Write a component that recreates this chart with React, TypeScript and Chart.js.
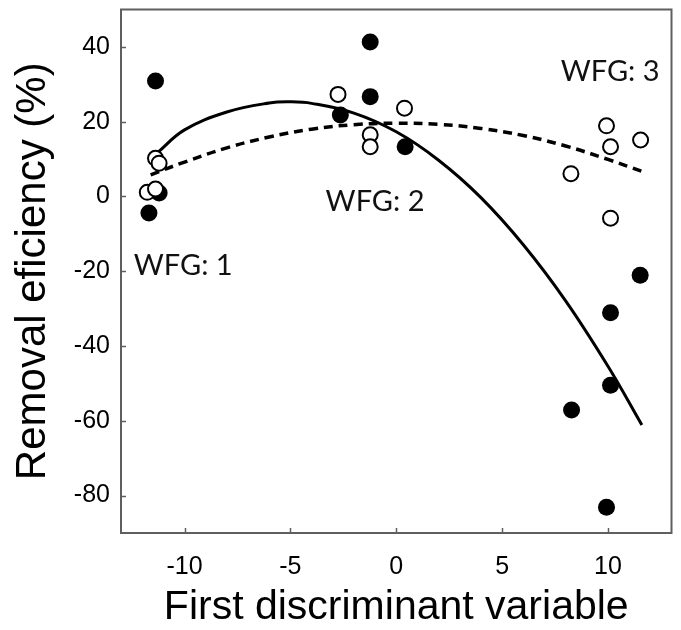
import React, { useEffect, useRef } from "react";
import { Chart, registerables } from "chart.js";

Chart.register(...registerables);

// Filled circles (group A)
const filledX = [-11.37, -11.68, -11.2, -1.23, -1.23, -2.64, 0.42, 11.52, 10.12, 10.12, 8.28, 9.93];
const filledY = [30.9, -4.4, 0.9, 41.3, 26.7, 21.8, 13.3, -21.1, -31.1, -50.5, -57.1, -83.1];

// Open circles (group B)
const openX = [-11.37, -11.2, -11.76, -11.37, -2.75, -1.23, -1.23, 0.39, 9.93, 10.12, 11.54, 8.25, 10.12];
const openY = [10.2, 8.9, 1.1, 2.0, 27.3, 16.5, 13.3, 23.6, 18.9, 13.3, 15.1, 6.1, -5.8];

// Solid fitted curve
const solidX = [-11.3, -10, -8, -6, -5, -4, -2, 0, 2, 4, 6, 8, 10, 11.6];
const solidY = [11.6, 17.8, 22.6, 25.0, 25.3, 24.9, 22.3, 17.3, 9.7, -0.3, -12.9, -27.9, -45.4, -61.1];

// Dashed fitted curve
const dashX = [-11.6, -10, -8, -6, -4, -2, 0, 2, 4, 6, 8, 10, 11.6];
const dashY = [5.8, 9.2, 13.0, 15.9, 18.0, 19.2, 19.6, 19.3, 18.2, 16.3, 13.5, 9.9, 6.7];

// Axis ticks
const xTicks = [-10, -5, 0, 5, 10];
const yTicks = [-80, -60, -40, -20, 0, 20, 40];

// Group labels (data coordinates)
const groupLabels = ["WFG: 1", "WFG: 2", "WFG: 3"];
const groupLabelX = [-12.4, -1.0, 10.1];
const groupLabelY = [-18.5, -1.4, 33.3];
const groupLabelAlign = ["left", "center", "center"];

const toPts = (xs: number[], ys: number[]) => xs.map((x, i) => ({ x, y: ys[i] }));

const FONT = "'Liberation Sans', Arial, sans-serif";

const framePlugin = {
  id: "frameTicks",
  beforeDatasetsDraw(chart: any) {
    const { ctx, chartArea } = chart;
    const { left, right, top, bottom } = chartArea;
    const xs = chart.scales.x;
    const ys = chart.scales.y;
    ctx.save();
    ctx.strokeStyle = "#5f5f5f";
    ctx.lineWidth = 2;
    ctx.strokeRect(left, top, right - left, bottom - top);
    ctx.lineWidth = 1.5;
    ctx.beginPath();
    xTicks.forEach((v) => {
      const px = Math.round(xs.getPixelForValue(v)) + 0.5;
      ctx.moveTo(px, bottom);
      ctx.lineTo(px, bottom - 5);
    });
    yTicks.forEach((v) => {
      const py = Math.round(ys.getPixelForValue(v)) + 0.5;
      ctx.moveTo(left, py);
      ctx.lineTo(left + 5, py);
    });
    ctx.stroke();
    ctx.restore();
  },
  afterDatasetsDraw(chart: any) {
    const { ctx } = chart;
    const xs = chart.scales.x;
    const ys = chart.scales.y;
    ctx.save();
    ctx.fillStyle = "#111";
    ctx.font = "29px Lato";
    ctx.textBaseline = "middle";
    groupLabels.forEach((t, i) => {
      ctx.textAlign = groupLabelAlign[i];
      ctx.fillText(t, xs.getPixelForValue(groupLabelX[i]), ys.getPixelForValue(groupLabelY[i]));
    });
    ctx.restore();
  },
};

export default function App() {
  const canvasRef = useRef<HTMLCanvasElement | null>(null);

  useEffect(() => {
    if (!canvasRef.current) return;
    const chart = new Chart(canvasRef.current, {
      type: "scatter",
      data: {
        datasets: [
          {
            label: "open",
            data: toPts(openX, openY),
            pointRadius: 7.5,
            pointBorderWidth: 2,
            pointBackgroundColor: "#ffffff",
            pointBorderColor: "#000000",
            showLine: false,
            order: 0,
          },
          {
            label: "filled",
            data: toPts(filledX, filledY),
            pointRadius: 8.5,
            pointBorderWidth: 0,
            pointBackgroundColor: "#000000",
            pointBorderColor: "#000000",
            showLine: false,
            order: 1,
          },
          {
            label: "solid fit",
            data: toPts(solidX, solidY),
            showLine: true,
            pointRadius: 0,
            borderColor: "#000000",
            borderWidth: 3,
            tension: 0.4,
            fill: false,
            order: 2,
          },
          {
            label: "dashed fit",
            data: toPts(dashX, dashY),
            showLine: true,
            pointRadius: 0,
            borderColor: "#000000",
            borderWidth: 3.5,
            borderDash: [9, 6],
            tension: 0.4,
            fill: false,
            order: 3,
          },
        ],
      },
      options: {
        responsive: false,
        animation: false,
        events: [],
        layout: { padding: { top: 9, right: 8, left: 0, bottom: 0 } },
        plugins: {
          legend: { display: false },
          tooltip: { enabled: false },
        },
        scales: {
          x: {
            type: "linear",
            min: -13,
            max: 13,
            afterBuildTicks: (s: any) => {
              s.ticks = xTicks.map((v) => ({ value: v }));
            },
            afterFit: (s: any) => {
              s.height = 97;
              s.paddingLeft = 0;
              s.paddingRight = 0;
              s.paddingTop = 0;
              s.paddingBottom = 0;
            },
            grid: { display: false, drawTicks: false },
            border: { display: false },
            ticks: {
              color: "#000",
              padding: 19,
              maxRotation: 0,
              autoSkip: false,
              font: { family: FONT, size: 25 },
              callback: (v: any) => String(v),
            },
            title: {
              display: true,
              text: "First discriminant variable",
              color: "#000",
              padding: { top: 0, bottom: -2 },
              font: { family: FONT, size: 41 },
            },
          },
          y: {
            type: "linear",
            min: -90,
            max: 50,
            afterBuildTicks: (s: any) => {
              s.ticks = yTicks.map((v) => ({ value: v }));
            },
            afterFit: (s: any) => {
              s.width = 121;
              s.paddingLeft = 0;
              s.paddingRight = 0;
              s.paddingTop = 0;
              s.paddingBottom = 0;
            },
            grid: { display: false, drawTicks: false },
            border: { display: false },
            ticks: {
              color: "#000",
              padding: 11,
              autoSkip: false,
              font: { family: FONT, size: 25 },
              callback: (v: any) => String(v),
            },
            title: {
              display: true,
              text: "Removal eficiency (%)",
              color: "#000",
              padding: 8,
              font: { family: FONT, size: 42 },
            },
          },
        },
      },
      plugins: [framePlugin],
    });
    return () => chart.destroy();
  }, []);

  return (
    <div style={{ position: "absolute", left: 0, top: 0, width: 681, height: 630, background: "#fff" }}>
      <canvas ref={canvasRef} width={681} height={630} style={{ display: "block" }} />
    </div>
  );
}
